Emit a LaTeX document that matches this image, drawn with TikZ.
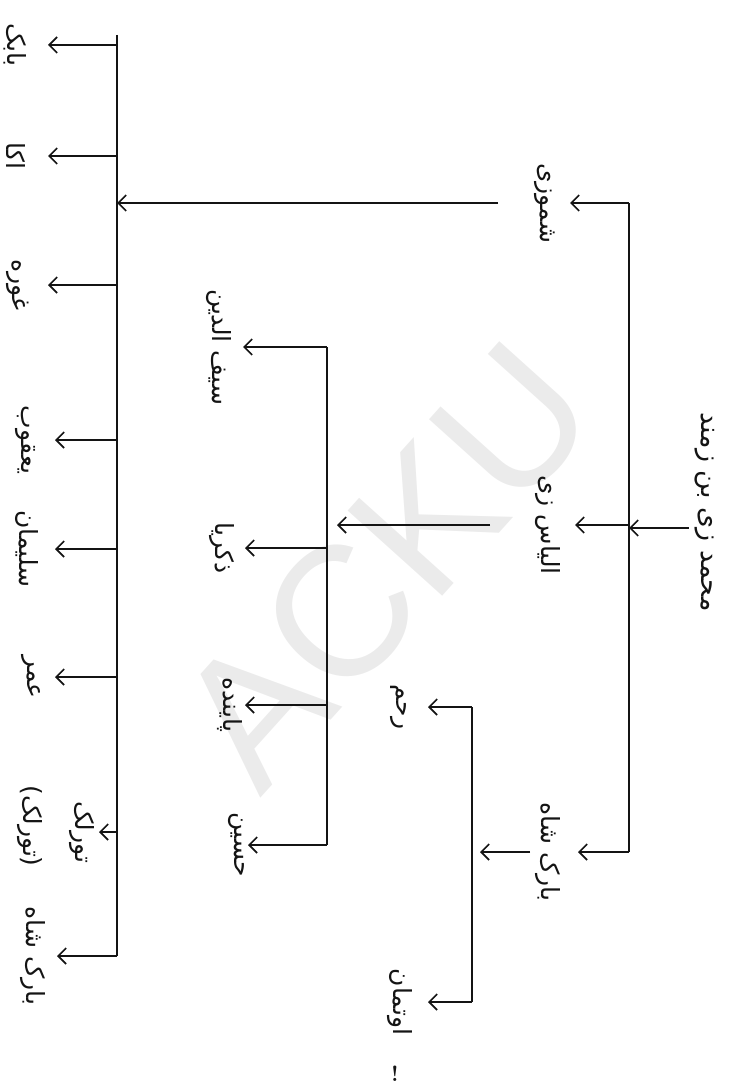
\documentclass[tikz,border=0pt]{standalone}
\usepackage{fontspec}
\usepackage{tikz}
\usetikzlibrary{calc,arrows.meta}
\newfontfamily\pashto[Script=Arabic]{DejaVu Sans}
\newfontfamily\wmfont{Liberation Sans}
\TeXXeTstate=1
\definecolor{inkx}{HTML}{141414}
\definecolor{wmgray}{HTML}{EBEBEB}
\newcommand{\ps}[1]{\beginR #1\endR}
\tikzset{
  ar/.style={-{Straight Barb[length=8pt,width=16pt,line width=1.6pt]},line width=1.6pt,inkx},
  ln/.style={line width=1.6pt,inkx},
  nm/.style={rotate=-90,inner sep=1pt,text=inkx,font=\pashto\fontsize{25}{27}\selectfont}
}

\begin{document}
\begin{tikzpicture}[x=1pt,y=-1pt]
\useasboundingbox (0,0) rectangle (731,1089);
\node[text=wmgray,rotate=48,font=\wmfont\fontsize{185}{185}\selectfont] (wm) at (385,565) {ACKU};
% root and first branch
\node[nm,font=\pashto\fontsize{27}{29}\selectfont] (root) at (705,512) {\ps{محمد زی بن زمند}};
\coordinate (b1top) at (629,203); \coordinate (b1bot) at (629,852);
\coordinate (rootout) at ([yshift=-16pt]root.south);
\draw[ln] (b1top) -- (b1bot);
\draw[ar,shorten <=5pt] (rootout) -- (rootout -| b1top);
\node[nm] (shamo) at (545,203) {\ps{شموزی}};
\node[nm] (ilyas) at (548,525) {\ps{الیاس زی}};
\node[nm] (barak) at (548,852) {\ps{بارک شاه}};
\draw[ar,shorten >=25pt] (b1top) -- (shamo.center);
\draw[ar,shorten >=27pt] (ilyas -| b1top) -- (ilyas.center);
\draw[ar,shorten >=30pt] (b1bot) -- (barak.center);
% shamozi
\coordinate (b2top) at (117,35); \coordinate (b2bot) at (117,956);
\draw[ln] (b2top) -- (b2bot);
\draw[ar,shorten <=47pt] (shamo.center) -- (shamo -| b2top);
\node[nm] (babak) at (15,45) {\ps{بابک}};
\node[nm] (aka) at (16,156) {\ps{اکا}};
\node[nm] (ghora) at (18,285) {\ps{غوره}};
\node[nm] (yaqub) at (25,440) {\ps{یعقوب}};
\node[nm] (sulaiman) at (27,549) {\ps{سلیمان}};
\node[nm] (umar) at (31,677) {\ps{عمر}};
\node[nm] (torlak) at (82,832) {\ps{تورلک}};
\node[nm] (torlakb) at (30,826) {\ps{(تورلک)}};
\node[nm] (barakb) at (33,956) {\ps{بارک شاه}};
\draw[ar,shorten >=33pt] (babak -| b2top) -- (babak.center);
\draw[ar,shorten >=32pt] (aka -| b2top) -- (aka.center);
\draw[ar,shorten >=30pt] (ghora -| b2top) -- (ghora.center);
\draw[ar,shorten >=30pt] (yaqub -| b2top) -- (yaqub.center);
\draw[ar,shorten >=28pt] (sulaiman -| b2top) -- (sulaiman.center);
\draw[ar,shorten >=24pt] (umar -| b2top) -- (umar.center);
\draw[ar,shorten >=17pt] (torlak -| b2top) -- (torlak.center);
\draw[ar,shorten >=24pt] (b2bot) -- (barakb.center);
% ilyaszi
\coordinate (b3top) at (327,347); \coordinate (b3bot) at (327,845);
\draw[ln] (b3top) -- (b3bot);
\draw[ar,shorten <=58pt,shorten >=10pt] (ilyas.center) -- (ilyas -| b3top);
\node[nm] (saif) at (219,347) {\ps{سیف الدین}};
\node[nm] (zakaria) at (222,548) {\ps{ذکریا}};
\node[nm] (painda) at (230,705) {\ps{پاینده}};
\node[nm] (husain) at (236,845) {\ps{حسین}};
\draw[ar,shorten >=24pt] (b3top) -- (saif.center);
\draw[ar,shorten >=23pt] (zakaria -| b3top) -- (zakaria.center);
\draw[ar,shorten >=15pt] (painda -| b3top) -- (painda.center);
\draw[ar,shorten >=12pt] (b3bot) -- (husain.center);
% barak shah
\coordinate (b4top) at (472,707); \coordinate (b4bot) at (472,1002);
\draw[ln] (b4top) -- (b4bot);
\draw[ar,shorten <=18pt,shorten >=8pt] (barak.center) -- (barak -| b4top);
\node[nm] (rahm) at (398,707) {\ps{رحم}};
\node[nm] (utman) at (400,1002) {\ps{اوتمان}};
\draw[ar,shorten >=30pt] (b4top) -- (rahm.center);
\draw[ar,shorten >=28pt] (b4bot) -- (utman.center);
\node[text=inkx,font=\bfseries\fontsize{22}{24}\selectfont] (excl) at (395,1074) {!};
\end{tikzpicture}
\end{document}
